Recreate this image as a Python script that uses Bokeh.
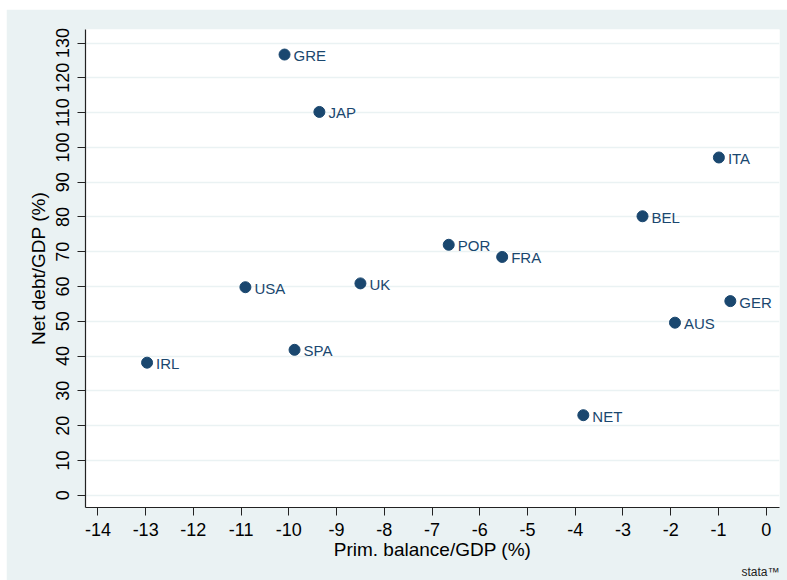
from bokeh.plotting import figure
from bokeh.models import ColumnDataSource, Range1d, FixedTicker, Title, PrintfTickFormatter
from bokeh.core.properties import value
from bokeh.embed import file_html
from bokeh.resources import INLINE

countries = ["GRE", "JAP", "ITA", "BEL", "POR", "FRA", "UK", "USA", "GER", "AUS", "SPA", "IRL", "NET"]
prim_balance = [-10.09, -9.36, -0.99, -2.59, -6.65, -5.53, -8.50, -10.91, -0.75, -1.91, -9.88, -12.97, -3.83]
net_debt = [126.7, 110.2, 97.1, 80.2, 72.0, 68.5, 60.9, 59.8, 55.8, 49.6, 41.8, 38.1, 23.0]
x_ticks = list(range(-14, 1))
y_ticks = list(range(0, 131, 10))

BG = "#eaf2f3"
NAVY = "#1a476f"
FONT = "Liberation Sans"

src = ColumnDataSource(dict(x=prim_balance, y=net_debt, label=countries))

p = figure(width=781, height=571, output_backend="svg", toolbar_location=None,
           x_range=Range1d(-14.26, 0.28), y_range=Range1d(-3.54, 133.9),
           min_border_left=79, min_border_right=8, min_border_top=20, min_border_bottom=73)
p.margin = (9, 0, 0, 6)
p.border_fill_color = BG
p.background_fill_color = "white"
p.outline_line_color = None

p.xgrid.grid_line_color = None
p.ygrid.grid_line_color = BG
p.ygrid.grid_line_width = 1.5

for ax in (p.xaxis[0], p.yaxis[0]):
    ax.axis_line_color = "#222222"
    ax.axis_line_width = 1.2
    ax.major_tick_line_color = "#222222"
    ax.major_tick_out = 8
    ax.major_tick_in = 0
    ax.minor_tick_line_color = None
    ax.major_label_text_font = FONT
    ax.major_label_text_font_size = "18px"
    ax.major_label_text_color = "black"
    ax.axis_label_text_font = FONT
    ax.axis_label_text_font_size = "19px"
    ax.axis_label_text_font_style = "normal"
    ax.axis_label_text_color = "black"
    ax.formatter = PrintfTickFormatter(format="%d")

p.xaxis.ticker = FixedTicker(ticks=x_ticks)
p.yaxis.ticker = FixedTicker(ticks=y_ticks)
p.xaxis.axis_label = "Prim. balance/GDP (%)"
p.yaxis.axis_label = "Net debt/GDP (%)"
p.yaxis.major_label_orientation = "vertical"
p.xaxis.major_label_standoff = 7
p.yaxis.major_label_standoff = 8
p.xaxis.axis_label_standoff = 0
p.yaxis.axis_label_standoff = 5

p.scatter("x", "y", source=src, size=11, fill_color=NAVY, line_color=NAVY)
p.text("x", "y", text="label", source=src, x_offset=9, y_offset=1,
       text_baseline="middle", text_align="left",
       text_font=value(FONT), text_font_size="15px", text_color=NAVY)

# Stata logo (bottom right, below the axis title)
logo = Title(text="stata™", align="right", text_font=FONT, text_font_size="12px",
             text_font_style="normal", text_color="#222222", standoff=0)
p.add_layout(logo, "below")

open("out.html", "w").write(file_html(p, INLINE))
